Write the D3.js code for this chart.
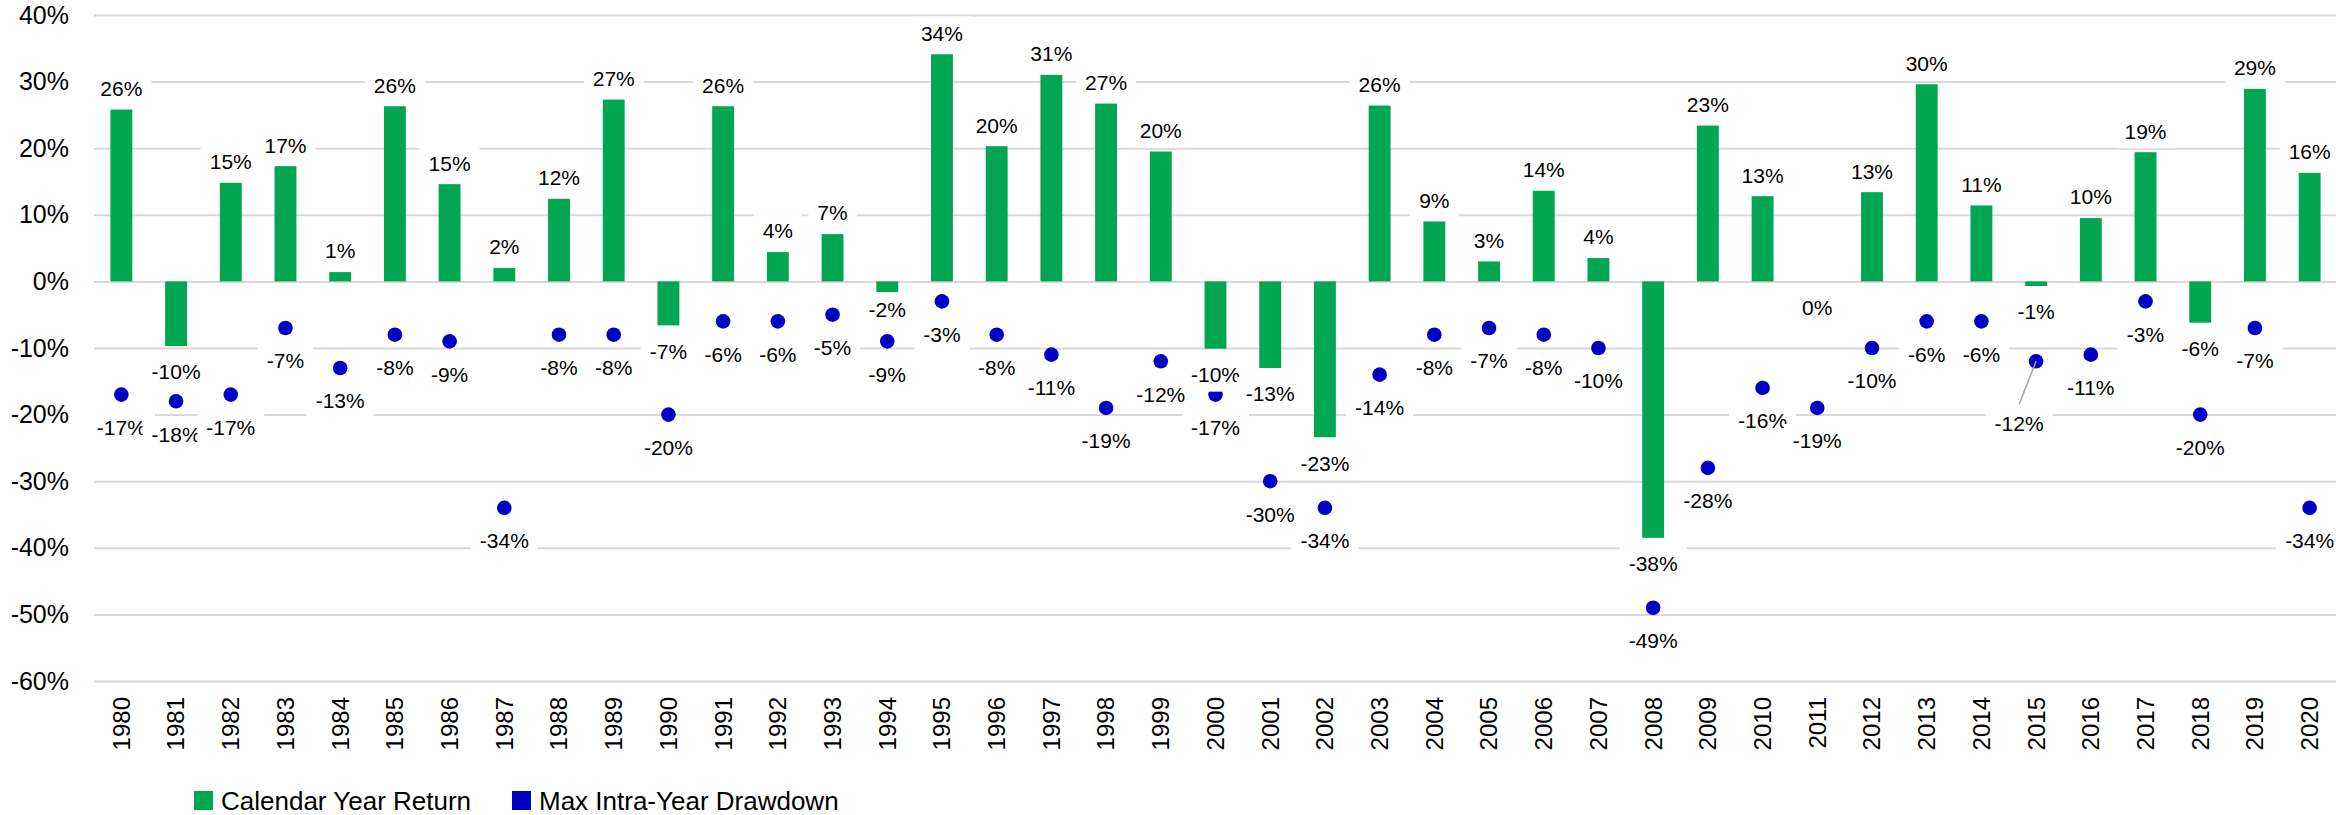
<!DOCTYPE html>
<html>
<head>
<meta charset="utf-8">
<script src="https://cdn.jsdelivr.net/npm/d3@7"></script>
<style>
  body { margin: 0; background: #fff; }
  text { font-family: "Liberation Sans", Arial, sans-serif; fill: #000; }
</style>
</head>
<body>
<svg id="chart"></svg>
<script>
/* DATA */
const years = [1980, 1981, 1982, 1983, 1984, 1985, 1986, 1987, 1988, 1989,
  1990, 1991, 1992, 1993, 1994, 1995, 1996, 1997, 1998, 1999,
  2000, 2001, 2002, 2003, 2004, 2005, 2006, 2007, 2008, 2009,
  2010, 2011, 2012, 2013, 2014, 2015, 2016, 2017, 2018, 2019, 2020];

// calendar year return (bars)
const yearReturn = [25.8, -9.7, 14.8, 17.3, 1.4, 26.3, 14.6, 2.0, 12.4, 27.3,
  -6.6, 26.3, 4.4, 7.1, -1.6, 34.1, 20.3, 31.0, 26.7, 19.5,
  -10.1, -13.0, -23.4, 26.4, 9.0, 3.0, 13.6, 3.5, -38.5, 23.4,
  12.8, 0.0, 13.4, 29.6, 11.4, -0.7, 9.5, 19.4, -6.2, 28.9, 16.3];

// max intra-year drawdown (dots)
const drawdown = [-17, -18, -17, -7, -13, -8, -9, -34, -8, -8,
  -20, -6, -6, -5, -9, -3, -8, -11, -19, -12,
  -17, -30, -34, -14, -8, -7, -8, -10, -49, -28,
  -16, -19, -10, -6, -6, -12, -11, -3, -20, -7, -34];

const yTicks = [40, 30, 20, 10, 0, -10, -20, -30, -40, -50, -60];
const seriesNames = ["Calendar Year Return", "Max Intra-Year Drawdown"];

/* LAYOUT */
const width = 2336, height = 815;
const margin = { top: 15, left: 94, right: -1, bottom: 134 };
const green = "#00a651", blue = "#0000c0", gridColor = "#d9d9d9";

const svg = d3.select("#chart").attr("width", width).attr("height", height);

const xScale = d3.scaleBand()
  .domain(years)
  .range([margin.left, width - margin.right])
  .paddingInner(0.6)
  .paddingOuter(0.3);

const yScale = d3.scaleLinear()
  .domain([-60, 40])
  .range([height - margin.bottom, margin.top]);

const pct = d => Math.round(d) + "%";

// gridlines
const grid = svg.append("g")
  .attr("transform", `translate(${margin.left},0)`)
  .call(d3.axisLeft(yScale).tickValues(yTicks)
    .tickSize(-(width - margin.right - margin.left)).tickFormat(""));
grid.select(".domain").remove();
grid.selectAll("line").attr("stroke", gridColor).attr("stroke-width", 2);

// y axis labels
const yAxisGroup = svg.append("g")
  .attr("transform", `translate(${margin.left},0)`)
  .call(d3.axisLeft(yScale).tickValues(yTicks).tickSize(0).tickPadding(25).tickFormat(pct));
yAxisGroup.select(".domain").remove();
yAxisGroup.selectAll("text")
  .attr("font-size", 25)
  .attr("font-family", "Liberation Sans, Arial, sans-serif")
  .attr("fill", "#000");

// x axis labels (rotated years)
const xAxisGroup = svg.append("g")
  .attr("transform", `translate(0,${yScale(-60)})`)
  .call(d3.axisBottom(xScale).tickSize(0));
xAxisGroup.select(".domain").remove();
xAxisGroup.selectAll("text")
  .attr("font-size", 24)
  .attr("font-family", "Liberation Sans, Arial, sans-serif")
  .attr("fill", "#000")
  .attr("text-anchor", "end")
  .attr("transform", "rotate(-90)")
  .attr("x", -16)
  .attr("y", 0)
  .attr("dy", "0.35em");

const rows = years.map((yr, i) => ({ year: yr, ret: yearReturn[i], dd: drawdown[i] }));

// bars
svg.append("g").selectAll("rect")
  .data(rows)
  .join("rect")
  .attr("x", d => xScale(d.year))
  .attr("width", xScale.bandwidth())
  .attr("y", d => yScale(Math.max(0, d.ret)))
  .attr("height", d => Math.abs(yScale(d.ret) - yScale(0)))
  .attr("fill", green);

// dots
svg.append("g").selectAll("circle")
  .data(rows)
  .join("circle")
  .attr("cx", d => xScale(d.year) + xScale.bandwidth() / 2)
  .attr("cy", d => yScale(d.dd))
  .attr("r", 7.3)
  .attr("fill", blue);

// label tweaks where the original moved a label by hand
const barNudge = { 1994: -8 };
const dotNudge = { 2015: { dx: -17, dy: 29, leader: true } };

function addLabel(layer, cx, cy, txt) {
  const g = layer.append("g");
  const r = g.append("rect").attr("fill", "#fff");
  const t = g.append("text")
    .attr("x", cx).attr("y", cy).attr("dy", "0.35em")
    .attr("text-anchor", "middle")
    .attr("font-size", 21)
    .text(txt);
  const b = t.node().getBBox();
  r.attr("x", b.x - 9).attr("y", cy - 17).attr("width", b.width + 18).attr("height", 34);
}

const labelLayer = svg.append("g");

rows.forEach(d => {
  const cx = xScale(d.year) + xScale.bandwidth() / 2;
  let cy = d.ret > 0 ? yScale(d.ret) - 21 : yScale(d.ret) + 26;
  cy += barNudge[d.year] || 0;
  addLabel(labelLayer, cx, cy, pct(d.ret));
});

rows.forEach(d => {
  const cx = xScale(d.year) + xScale.bandwidth() / 2;
  const n = dotNudge[d.year] || { dx: 0, dy: 0 };
  const lx = cx + n.dx, ly = yScale(d.dd) + 33 + n.dy;
  if (n.leader) {
    labelLayer.append("line")
      .attr("x1", cx).attr("y1", yScale(d.dd))
      .attr("x2", lx).attr("y2", ly - 19)
      .attr("stroke", "#a6a6a6").attr("stroke-width", 1.5);
  }
  addLabel(labelLayer, lx, ly, pct(d.dd));
});

// legend
const legend = svg.append("g");
const legendX = [194, 512];
[green, blue].forEach((c, i) => {
  legend.append("rect")
    .attr("x", legendX[i]).attr("y", 791)
    .attr("width", 19).attr("height", 19)
    .attr("fill", c);
  legend.append("text")
    .attr("x", legendX[i] + 27).attr("y", 810)
    .attr("font-size", 26)
    .text(seriesNames[i]);
});
</script>
</body>
</html>
